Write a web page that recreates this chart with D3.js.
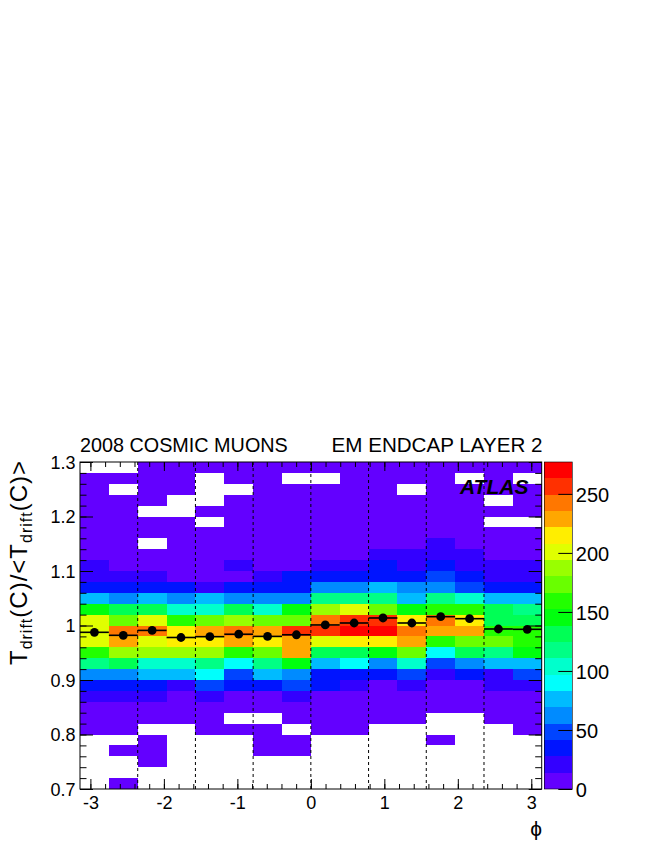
<!DOCTYPE html>
<html><head><meta charset="utf-8">
<script src="https://cdn.jsdelivr.net/npm/d3@7"></script>
<style>
body{margin:0;background:#fff}
svg{display:block}
text{font-family:"Liberation Sans",Arial,Helvetica,sans-serif;fill:#000}
</style>
</head><body>
<svg id="chart" width="664" height="860"></svg>
<script>
// ---------- data ----------
const phiRange = [-Math.PI, Math.PI];
const nPhiBins = 16;
const ratioRange = [0.7, 1.3];
const nRatioBins = 30;
// counts per cell: one row per ratio bin, from top (1.28-1.30) to bottom (0.70-0.72), 16 phi bins each
const counts = [
  [0,0,3,4,2,5,3,4, 4,3,6,5,4,3,5,4],
  [5,4,6,3,0,4,5,0, 0,6,5,4,7,0,5,0],
  [6,0,5,4,0,0,6,5, 5,6,7,0,6,5,4,6],
  [7,6,5,0,0,4,6,7, 6,5,6,7,8,6,0,5],
  [8,7,0,0,5,6,7,8, 7,8,7,6,9,8,6,7],
  [8,9,6,7,0,7,8,9, 8,7,9,8,9,8,0,0],
  [9,10,8,9,7,9,8,10, 9,10,9,10,11,10,8,9],
  [11,10,0,9,10,11,9,12, 10,11,12,11,16,12,10,11],
  [12,13,11,12,11,12,13,12, 12,13,18,17,19,16,12,13],
  [18,13,12,13,12,19,13,13, 20,22,31,24,33,23,22,21],
  [24,22,20,13,12,13,21,30, 34,36,38,35,45,33,25,24],
  [35,36,33,30,26,37,34,38, 62,64,74,61,63,50,37,34],
  [76,63,75,62,77,64,60,65, 118,115,120,76,119,104,74,77],
  [147,131,130,103,104,133,102,146, 187,201,173,145,160,158,131,118],
  [201,172,202,159,174,186,171,173, 242,256,257,214,243,215,132,130],
  [200,243,241,215,229,242,228,256, 255,270,271,243,230,228,160,158],
  [202,230,200,216,214,229,215,230, 201,216,214,229,159,172,173,160],
  [159,187,186,188,186,158,174,228, 132,131,146,173,90,133,118,145],
  [118,132,104,103,117,90,119,146, 76,91,62,104,48,63,75,77],
  [62,61,76,75,90,48,77,63, 35,34,36,47,21,33,22,48],
  [35,33,34,21,48,35,34,47, 34,22,12,20,11,12,21,22],
  [21,20,22,12,21,11,12,20, 11,10,12,11,9,10,11,12],
  [8,9,8,7,9,8,7,8, 8,7,9,8,7,8,9,8],
  [6,5,4,5,4,0,0,5, 5,6,4,5,0,0,4,5],
  [3,4,0,0,3,2,3,0, 3,2,0,0,0,0,0,3],
  [0,0,2,0,0,0,2,3, 0,0,0,0,1,0,0,0],
  [0,1,2,0,0,0,1,1, 0,0,0,0,0,0,0,0],
  [0,0,1,0,0,0,0,0, 0,0,0,0,0,0,0,0],
  [0,0,0,0,0,0,0,0, 0,0,0,0,0,0,0,0],
  [0,1,0,0,0,0,0,0, 0,0,0,0,0,0,0,0]
];
// profile: mean ratio per phi bin
const profileMean = [0.9875,0.982,0.991,0.978,0.9795,0.984,0.980,0.983,
                     1.001,1.0046,1.0138,1.0046,1.0162,1.0125,0.9936,0.993];
const sectorBoundaryBins = [2,4,6,8,10,12,14];
const xTicks = [-3,-2,-1,0,1,2,3];
const yTicks = [0.7,0.8,0.9,1.0,1.1,1.2,1.3];
const zTicks = [0,50,100,150,200,250];
const zMax = 277;
const nContours = 20;
const titleLeft = "2008 COSMIC MUONS";
const titleRight = "EM ENDCAP LAYER 2";
const labelText = "ATLAS";

// ---------- layout ----------
const L = 80, R = 541.7, T = 462, B = 789;
const CB0 = 544.3, CB1 = 572.3;
const svg = d3.select("#chart");
svg.append("rect").attr("width",664).attr("height",860).attr("fill","#fff");

const x = d3.scaleLinear().domain(phiRange).range([L, R]);
const y = d3.scaleLinear().domain(ratioRange).range([B, T]);
const z = d3.scaleLinear().domain([0, zMax]).range([B, T]);

// ROOT "pretty" palette: 50 colours, hue 280 -> 0 in HLS
const palette = d3.range(50).map(i => d3.hsl(280 - (i+1)*5.6, 1, 0.5).formatHex());
const bandColor = j => palette[Math.floor((j + 0.99) * 50 / nContours)];
const bandOf = v => Math.min(nContours - 1, Math.floor(v / zMax * nContours));

const phiW = (phiRange[1]-phiRange[0]) / nPhiBins;
const ratW = (ratioRange[1]-ratioRange[0]) / nRatioBins;

// cells
const cells = [];
counts.forEach((row, r) => row.forEach((v, c) => {
  if (v > 0) cells.push({r, c, v});
}));
svg.append("g").attr("shape-rendering","crispEdges")
  .selectAll("rect").data(cells).join("rect")
  .attr("x", d => x(phiRange[0] + d.c*phiW))
  .attr("width", d => x(phiRange[0] + (d.c+1)*phiW) - x(phiRange[0] + d.c*phiW))
  .attr("y", d => y(ratioRange[1] - d.r*ratW))
  .attr("height", d => y(ratioRange[1] - (d.r+1)*ratW) - y(ratioRange[1] - d.r*ratW))
  .attr("fill", d => bandColor(bandOf(d.v)));

// dashed sector boundaries
svg.append("g").selectAll("line").data(sectorBoundaryBins).join("line")
  .attr("x1", d => x(phiRange[0] + d*phiW)).attr("x2", d => x(phiRange[0] + d*phiW))
  .attr("y1", T).attr("y2", B)
  .attr("stroke","#000").attr("stroke-width",1).attr("stroke-dasharray","3,3");

// axes (ROOT style ticks inside frame)
const xMinor = d3.range(-3.0, 3.01, 0.2).map(v => +v.toFixed(2));
const yMinor = d3.range(0.72, 1.3, 0.02).map(v => +v.toFixed(2));
function styleAxis(g){ g.select(".domain").remove(); g.selectAll("line").attr("stroke","#000"); }

svg.append("g").attr("transform",`translate(0,${B})`)
  .call(d3.axisBottom(x).tickValues(xMinor).tickSize(-5).tickFormat(""))
  .call(styleAxis);
svg.append("g").attr("transform",`translate(0,${B})`)
  .call(d3.axisBottom(x).tickValues(xTicks).tickSize(-10).tickPadding(20).tickFormat(d3.format("d")))
  .call(styleAxis)
  .call(g => g.selectAll("text").attr("font-size",18).attr("font-family","Liberation Sans, Arial, sans-serif").attr("dy","0"))
  .call(g => g.selectAll("text").text(d => String(d).replace("\u2212","-")));
svg.append("g").attr("transform",`translate(0,${T})`)
  .call(d3.axisTop(x).tickValues(xMinor).tickSize(-5).tickFormat(""))
  .call(styleAxis);
svg.append("g").attr("transform",`translate(0,${T})`)
  .call(d3.axisTop(x).tickValues(xTicks).tickSize(-9).tickFormat(""))
  .call(styleAxis);

svg.append("g").attr("transform",`translate(${L},0)`)
  .call(d3.axisLeft(y).tickValues(yMinor).tickSize(-6.5).tickFormat(""))
  .call(styleAxis);
svg.append("g").attr("transform",`translate(${L},0)`)
  .call(d3.axisLeft(y).tickValues(yTicks).tickSize(-13).tickPadding(5).tickFormat(d => d3.format(".1f")(d).replace(/\.0$/,"")))
  .call(styleAxis)
  .call(g => g.selectAll("text").attr("font-size",18).attr("font-family","Liberation Sans, Arial, sans-serif")
     .attr("x",-4.5).attr("dy","0.36em"));
svg.append("g").attr("transform",`translate(${R},0)`)
  .call(d3.axisRight(y).tickValues(yMinor).tickSize(-6.5).tickFormat(""))
  .call(styleAxis);
svg.append("g").attr("transform",`translate(${R},0)`)
  .call(d3.axisRight(y).tickValues(yTicks).tickSize(-13).tickFormat(""))
  .call(styleAxis);

// profile points
const prof = profileMean.map((m,i) => ({i, m}));
svg.append("g").selectAll("line").data(prof).join("line")
  .attr("x1", d => x(phiRange[0] + d.i*phiW)).attr("x2", d => x(phiRange[0] + (d.i+1)*phiW))
  .attr("y1", d => y(d.m)).attr("y2", d => y(d.m))
  .attr("stroke","#000").attr("stroke-width",1.6);
svg.append("g").selectAll("circle").data(prof).join("circle")
  .attr("cx", d => x(phiRange[0] + (d.i+0.5)*phiW)).attr("cy", d => y(d.m)).attr("r",4.4)
  .attr("fill","#000");

// frame
svg.append("rect").attr("x",L).attr("y",T).attr("width",R-L).attr("height",B-T)
  .attr("fill","none").attr("stroke","#000").attr("stroke-width",1);

// colour bar
const bands = d3.range(nContours);
svg.append("g").attr("shape-rendering","crispEdges").selectAll("rect").data(bands).join("rect")
  .attr("x", CB0).attr("width", CB1-CB0)
  .attr("y", j => z((j+1)*zMax/nContours)).attr("height", j => z(j*zMax/nContours) - z((j+1)*zMax/nContours))
  .attr("fill", j => bandColor(j));
svg.append("rect").attr("x",CB0).attr("y",T).attr("width",CB1-CB0).attr("height",B-T)
  .attr("fill","none").attr("stroke","#000").attr("stroke-width",0.6);
svg.append("g").attr("transform",`translate(${CB1},0)`)
  .call(d3.axisRight(z).tickValues(zTicks).tickSize(-14).tickPadding(4).tickFormat(d3.format("d")))
  .call(styleAxis)
  .call(g => g.selectAll("text").attr("font-size",20).attr("font-family","Liberation Sans, Arial, sans-serif")
     .attr("x",3.5).attr("dy","0.36em"));

// titles
svg.append("text").attr("x",L).attr("y",452).attr("font-size",19.8).text(titleLeft);
svg.append("text").attr("x",542.5).attr("y",452).attr("font-size",20.6).attr("text-anchor","end").text(titleRight);

// ATLAS label
svg.append("text").attr("x",460).attr("y",493.5).attr("font-size",21)
  .attr("font-weight","bold").attr("font-style","italic").text(labelText);

// x-axis title
svg.append("text").attr("x",542).attr("y",836).attr("font-size",21).attr("text-anchor","end")
  .attr("font-family","DejaVu Serif, Liberation Serif, serif").text("\u03D5");

// y-axis title
const yt = svg.append("text").attr("transform","translate(27,460) rotate(-90)")
  .attr("text-anchor","end").attr("font-size",24).attr("letter-spacing",1);
yt.append("tspan").text("T");
yt.append("tspan").attr("font-size",16).attr("dy",5).text("drift");
yt.append("tspan").attr("dy",-5).text("(C)/<T");
yt.append("tspan").attr("font-size",16).attr("dy",5).text("drift");
yt.append("tspan").attr("dy",-5).text("(C)>");
</script>
</body></html>
